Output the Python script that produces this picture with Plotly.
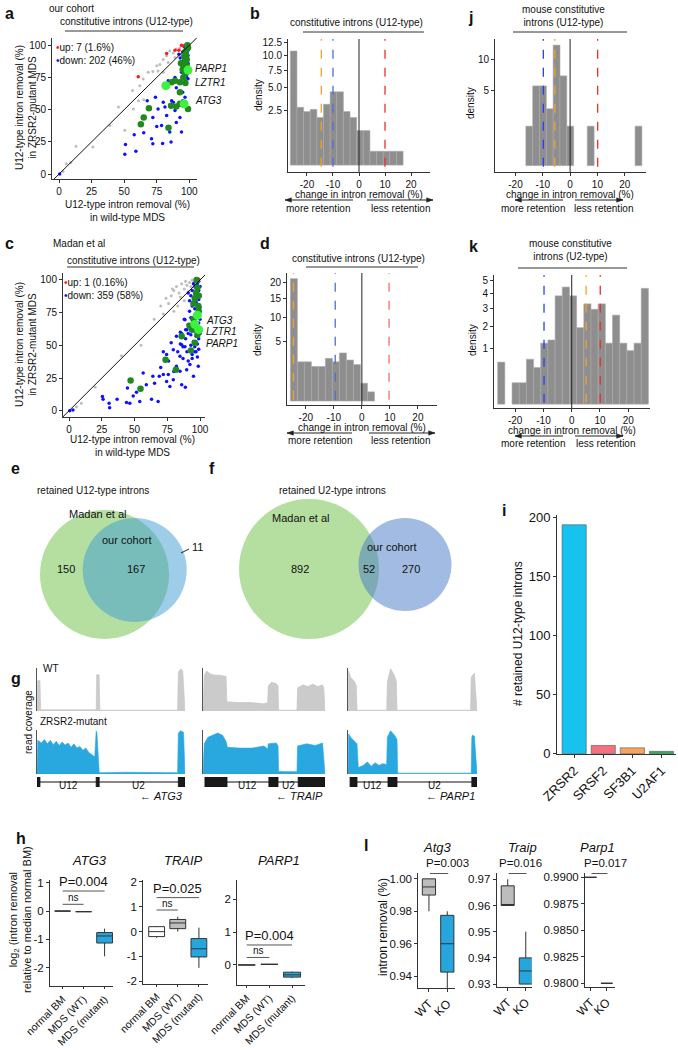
import numpy as np
import plotly.graph_objects as go

W, H = 678, 1050
FONT = "Liberation Sans, Arial, sans-serif"

# ======================= DATA =======================
# Panel a: our cohort, U12-type intron removal (%) WT MDS (x) vs ZRSR2-mutant MDS (y)
a_grey = [(5.6, 8), (13, 21.6), (26, 21), (39, 37.8), (45.6, 52), (50.5, 34), (57, 50.6), (61, 57),
          (64.6, 73.8), (65, 57.6), (68.5, 79), (72, 79.7), (75, 84), (77.4, 85), (80, 89), (82.6, 91.8),
          (85, 95.6), (87.7, 94), (90, 97), (92.8, 98), (89, 90.5), (94, 93), (96, 98.7), (76, 80),
          (62, 68.6), (56.4, 64.8), (80, 79), (83.8, 86.6), (3, 2), (9, 9)]
a_blue = [(0.5, 0), (51, 23), (57.7, 30.6), (59, 17.7), (65, 32), (50.5, 15.4), (71, 27.5), (79.5, 23.7),
          (86, 25), (75, 37), (78.7, 37.8), (82.6, 45.5), (85, 32.6), (90, 40), (92.8, 44), (87.7, 55.8),
          (81.3, 52), (86.4, 57), (89, 49.4), (94.9, 57), (96.7, 52.4), (76, 50.6), (80, 55.8), (94, 32.6),
          (83.8, 72.5), (85, 71.2), (89, 75), (94, 79), (94.9, 63.5), (90, 67), (72, 44), (67.7, 57),
          (98, 75), (96.7, 59.6), (74, 59.6), (72, 23.6), (98, 99), (97, 97), (99, 96), (98, 94), (96, 93),
          (99, 92), (97, 90), (98, 88), (95, 91), (99, 86), (97, 85), (96, 88), (98, 83), (99, 80), (97, 81),
          (95, 85), (96, 78), (98, 77), (99, 74), (97, 72), (94, 87), (93, 90), (95, 95), (92, 93), (96, 99)]
a_red = [(82.6, 93.6), (60.8, 75.6), (92, 96), (96, 99.5), (98, 95.6), (89, 96), (94, 100)]
a_green = [(98.5, 100), (98, 89), (97, 95), (96, 91), (95, 85), (98, 84), (97, 78), (96, 82), (93.6, 86),
           (97.4, 93), (99, 98), (95.4, 75), (94.9, 81), (92.8, 71.2), (86.4, 71.2), (89, 72.5), (92.8, 63.5),
           (92.8, 54.5), (86, 53), (90, 52.4), (99, 50.6), (69, 51), (65, 44), (62.8, 38.6), (84, 36),
           (97, 70.7), (96.7, 88)]
a_hl = [(99, 80.7), (82, 68.6), (96, 54.5)]
a_hl_genes = ["PARP1", "LZTR1", "ATG3"]
a_counts = ["up: 7 (1.6%)", "down: 202 (46%)"]

# Panel c: Madan et al
c_grey = [(5.6, 3), (9.4, 5.7), (20, 18), (40, 42), (55, 50), (65, 70), (70, 80), (74, 86), (78, 88),
          (80, 92), (82, 95), (84, 90), (86, 97), (88, 93), (89, 99), (90, 96), (91, 91), (92, 98),
          (93, 95), (94, 100), (95, 98), (96, 99), (85, 87), (76, 82), (83, 80), (88, 84), (80, 76),
          (72, 74), (79, 93)]
c_blue = [(25.5, 10.8), (26, 8.8), (30.6, 5.7), (31, 2.3), (36.7, 8.8), (43.9, 6.2), (46.4, 5.7),
          (44.6, 17.3), (49, 11.3), (51.5, 14.2), (54, 7), (56.6, 28.9), (59, 19.8), (63, 8.8), (64, 26.3),
          (65.3, 21), (68, 7), (68.9, 26.3), (72, 27.6), (74.5, 22.4), (75.8, 27.6), (77, 18.6), (79.6, 23.7),
          (82, 34), (84.7, 30.2), (86, 19.8), (88.8, 18), (89.8, 31.4), (92.3, 35.3), (95, 26.3), (98.7, 34),
          (3, 0.5), (0.5, 0), (88.5, 69.5), (91, 59), (86, 50.5), (79.6, 46.7), (74.5, 42.9), (84.7, 41.6),
          (88.5, 49), (70, 33), (76, 38), (80, 30), (83, 45), (87, 40), (90, 45), (93, 50), (91, 38),
          (85, 60), (78, 52), (82, 57), (89, 62), (94, 40), (96, 45), (72, 45),
          (99, 99), (98, 97), (100, 95), (97, 94), (99, 92), (98, 90), (100, 88), (96, 87), (99, 85),
          (97, 83), (98, 81), (100, 79), (96, 78), (99, 76), (97, 74), (98, 72), (100, 70), (95, 69),
          (99, 67), (97, 65), (98, 63), (96, 61), (100, 59), (97, 57), (99, 55), (95, 53), (98, 51),
          (96, 49), (99, 47), (97, 45), (94, 43), (98, 41), (95, 64), (93, 71), (94, 80), (92, 76),
          (93, 58), (91, 66), (92, 84), (90, 62), (89, 55), (88, 70), (87, 49), (86, 59), (85, 51),
          (91, 90), (95, 97), (94, 92), (96, 95), (93, 88)]
c_red = [(99, 100.5)]
c_green = [(97.4, 100), (98.7, 80), (97, 90), (96, 86), (99, 76), (95, 70), (97, 66), (94, 62), (98, 58),
           (96, 52), (93, 46), (95, 82), (98, 94), (47, 23.2), (54.6, 16.8), (81.6, 31.4), (73.7, 39),
           (86, 57), (92, 65), (99, 88)]
c_hl = [(98, 73), (96, 66), (99, 62)]
c_hl_genes = ["ATG3", "LZTR1", "PARP1"]
c_counts = ["up: 1 (0.16%)", "down: 359 (58%)"]

# Histograms: bin edges (change in intron removal, %) and densities
b_edges = [-26.4, -23.85, -21.3, -18.75, -16.2, -13.65, -11.1, -8.55, -6.0, -3.45, -0.9, 1.65, 4.2,
           6.75, 9.3, 11.85, 14.4, 16.95]
b_dens = [10.9, 2.8, 2.4, 2.6, 1.9, 3.1, 4.5, 4.5, 2.4, 1.9, 1.0, 1.0, 0.16, 0.16, 0.16, 0.16, 0.16]
b_vlines = [(-14.5, "#f0a22a"), (-10, "#4f6fd0"), (10, "#e8312b")]

d_edges = [-25.5, -23, -20.5, -18, -15.5, -13, -10.5, -8, -5.5, -3, -0.5, 2, 4.5]
d_dens = [21.4, 2.2, 2.2, 1.7, 1.7, 2.6, 2.2, 3.3, 2.4, 1.9, 0.45, 0.12]
d_vlines = [(-24.4, "#f0a22a"), (-9.5, "#4f6fd0"), (9.7, "#f07070")]

j_edges = [-16.2, -13.7, -11.2, -8.7, -6.2, -3.7, -1.2, 1.3, 3.8, 6.3, 8.8, 11.3, 13.8, 16.3, 18.8,
           21.3, 23.8, 26.3]
j_dens = [1.37, 5.6, 5.6, 2.85, 12.8, 7.1, 1.37, 0, 0, 1.37, 0, 0, 0, 0, 0, 0, 1.37]
j_vlines = [(-9.8, "#2a3cff"), (-5.6, "#f0a22a"), (10.1, "#e8312b")]

k_edges = [-26.2 + 2.54 * i for i in range(22)]
k_dens = [0.58, 0, 0.15, 0.15, 0.66, 0.44, 1.22, 1.35, 3.85, 4.5, 3.85, 1.92, 3.3, 2.95, 3.3, 1.22,
          2.6, 1.22, 0.94, 1.22, 4.4]
k_vlines = [(-9.8, "#2a3cff"), (5.1, "#f0a22a"), (10.1, "#e8312b")]

hist_xticks = [-20, -10, 0, 10, 20]

# Venn counts
e_counts = [150, 167, 11]
f_counts = [892, 52, 270]

# Panel g: read coverage (normalised position along locus, relative height)
g_genes = ["ATG3", "TRAIP", "PARP1"]
g_wt_x = [
    [0, 0.005, 0.02, 0.025, 0.40, 0.403, 0.42, 0.425, 0.95, 0.955, 0.97, 0.985, 1.0],
    [0, 0.01, 0.03, 0.06, 0.1, 0.14, 0.19, 0.195, 0.3, 0.4, 0.5, 0.53, 0.535, 0.56, 0.6, 0.615, 0.62,
     0.77, 0.775, 0.82, 0.86, 0.9, 0.94, 0.98, 0.99, 1.0],
    [0, 0.005, 0.02, 0.05, 0.065, 0.07, 0.3, 0.305, 0.33, 0.36, 0.375, 0.38, 0.95, 0.955, 0.98, 1.0]]
g_wt_y = [
    [0, 0.72, 0.72, 0.03, 0.03, 0.86, 0.86, 0.02, 0.02, 0.92, 1.0, 0.95, 0],
    [0, 0.85, 0.95, 0.88, 0.85, 0.85, 0.82, 0.22, 0.2, 0.2, 0.17, 0.2, 0.6, 0.68, 0.65, 0.6, 0.02,
     0.02, 0.55, 0.62, 0.58, 0.64, 0.58, 0.62, 0.55, 0],
    [0, 0.95, 0.8, 0.7, 0.6, 0.02, 0.02, 0.7, 1.0, 0.85, 0.7, 0.02, 0.02, 0.8, 0.9, 0]]
g_mut_x = [
    [0, 0.005, 0.03, 0.05, 0.07, 0.09, 0.11, 0.13, 0.15, 0.17, 0.19, 0.21, 0.23, 0.25, 0.27, 0.29,
     0.31, 0.33, 0.35, 0.37, 0.39, 0.40, 0.405, 0.42, 0.425, 0.6, 0.8, 0.95, 0.955, 0.97, 0.99, 1.0],
    [0, 0.01, 0.04, 0.08, 0.12, 0.16, 0.19, 0.2, 0.3, 0.4, 0.5, 0.53, 0.535, 0.6, 0.615, 0.62, 0.77,
     0.775, 0.85, 0.92, 0.98, 1.0],
    [0, 0.005, 0.02, 0.05, 0.07, 0.08, 0.12, 0.15, 0.18, 0.21, 0.24, 0.27, 0.3, 0.305, 0.33, 0.36,
     0.38, 0.385, 0.6, 0.8, 0.955, 0.96, 0.965, 0.98, 1.0]]
g_mut_y = [
    [0, 0.78, 0.72, 0.8, 0.7, 0.78, 0.68, 0.76, 0.66, 0.74, 0.67, 0.72, 0.62, 0.7, 0.6, 0.64, 0.55,
     0.6, 0.5, 0.45, 0.4, 1.0, 0.95, 0.05, 0.03, 0.04, 0.03, 0.03, 0.95, 1.0, 0.97, 0],
    [0, 0.7, 0.85, 0.9, 0.95, 0.9, 0.75, 0.62, 0.6, 0.6, 0.65, 0.58, 0.7, 0.72, 0.65, 0.06, 0.05,
     0.65, 0.7, 0.66, 0.72, 0],
    [0, 0.93, 0.85, 0.75, 0.7, 0.15, 0.2, 0.28, 0.18, 0.26, 0.2, 0.24, 0.22, 0.85, 1.0, 0.9, 0.8,
     0.02, 0.02, 0.02, 0.02, 0.85, 0.9, 0.88, 0]]
g_exons = [[(0, 0.02), (0.4, 0.42), (0.955, 1.0)],
           [(0.016, 0.197), (0.54, 0.615), (0.78, 1.0)],
           [(0.016, 0.07), (0.31, 0.38), (0.96, 1.0)]]
g_intron_types = ["U12", "U2"]

# Panel i
i_cats = ["ZRSR2", "SRSF2", "SF3B1", "U2AF1"]
i_vals = [194, 7, 5, 2]
i_colors = ["#16c3ee", "#f4707e", "#f6a35c", "#2fae62"]

# Panel h: box stats (lowerfence, q1, median, q3, upperfence)
h_genes = ["ATG3", "TRAIP", "PARP1"]
h_groups = ["normal BM", "MDS (WT)", "MDS (mutant)"]
h_stats = [
    [(0, 0, 0, 0, 0), (-0.02, -0.02, -0.02, -0.02, -0.02), (-1.6, -1.13, -0.88, -0.76, -0.62)],
    [(-0.25, -0.2, 0, 0.2, 0.22), (0.0, 0.12, 0.35, 0.49, 0.6), (-1.46, -1.02, -0.69, -0.28, 0.16)],
    [(0, 0, 0, 0, 0), (0.02, 0.02, 0.02, 0.02, 0.02), (-0.4, -0.37, -0.3, -0.22, -0.2)]]
h_pvals = ["P=0.004", "P=0.025", "P=0.004"]
h_colors = ["#ffffff", "#bdbdbd", "#27a6de"]

# Panel l
l_genes = ["Atg3", "Traip", "Parp1"]
l_groups = ["WT", "KO"]
l_stats = [
    [(0.98, 0.99, 0.995, 1.0, 1.0), (0.93, 0.9425, 0.96, 0.9775, 0.98)],
    [(0.96, 0.96, 0.96, 0.9675, 0.97), (0.93, 0.93, 0.935, 0.94, 0.95)],
    [(0.99, 0.99, 0.99, 0.99, 0.99), (0.98, 0.98, 0.98, 0.98, 0.98)]]
l_pvals = ["P=0.003", "P=0.016", "P=0.017"]
l_colors = ["#bdbdbd", "#27a6de"]

# ======================= HELPERS =======================
annotations, shapes, axes = [], [], {}
fig = go.Figure()


def px(x):
    return x / W


def py(y):
    return 1 - y / H


def text(t, x, y, size=10, xa="center", ya="middle", angle=0, color="#111", bold=False, italic=False):
    if italic:
        t = f"<i>{t}</i>"
    if bold:
        t = f"<b>{t}</b>"
    annotations.append(dict(text=t, x=px(x), y=py(y), xref="paper", yref="paper", showarrow=False,
                            xanchor=xa, yanchor=ya, textangle=angle,
                            font=dict(size=size, color=color, family=FONT)))


def pline(x0, x1, y0, y1, color="#333", width=1):
    shapes.append(dict(type="line", xref="paper", yref="paper", x0=px(x0), x1=px(x1), y0=py(y0),
                       y1=py(y1), line=dict(color=color, width=width)))


def arrow(xh, xt, y):
    pline(xh, xt, y, y, color="#222", width=1)
    d = 4 if xt > xh else -4
    shapes.append(dict(type="path", xref="paper", yref="paper",
                       path=f"M {px(xh)} {py(y)} L {px(xh + d * 1.6)} {py(y - 2.2)} L {px(xh + d * 1.6)} {py(y + 2.2)} Z",
                       fillcolor="#222", line=dict(color="#222", width=0.5)))


def make_axes(n, xpx, ypx, xr, yr, xkw=None, ykw=None):
    xs = "xaxis" if n == 1 else f"xaxis{n}"
    ys = "yaxis" if n == 1 else f"yaxis{n}"
    xa = "x" if n == 1 else f"x{n}"
    ya = "y" if n == 1 else f"y{n}"
    base = dict(showline=True, linecolor="#333", linewidth=1, ticks="outside", ticklen=3, tickwidth=1,
                tickcolor="#333", showgrid=False, zeroline=False, fixedrange=True,
                tickfont=dict(size=10, color="#111", family=FONT))
    xd = dict(base, domain=[xpx[0] / W, xpx[1] / W], range=xr, anchor=ya)
    yd = dict(base, domain=[1 - ypx[1] / H, 1 - ypx[0] / H], range=yr, anchor=xa)
    if xkw:
        xd.update(xkw)
    if ykw:
        yd.update(ykw)
    axes[xs] = xd
    axes[ys] = yd
    return xa, ya


def unzip(pts):
    return [p[0] for p in pts], [p[1] for p in pts]


# ======================= SCATTER PANELS a, c =======================
def scatter_panel(n, xpx, ypx, xr, yr, grey, blue, red, green, hl):
    xa, ya = make_axes(n, xpx, ypx, xr, yr,
                       dict(tickvals=[0, 25, 50, 75, 100]), dict(tickvals=[0, 25, 50, 75, 100]))
    for pts, col, size in [(grey, "#bdbdbd", 3), (blue, "#1010ff", 3.5), (red, "#ff1a1a", 3.5),
                           (green, "#1f8b1f", 6.5), (hl, "#3df23d", 9)]:
        x, y = unzip(pts)
        fig.add_trace(go.Scatter(x=x, y=y, mode="markers", xaxis=xa, yaxis=ya, hoverinfo="skip",
                                 marker=dict(color=col, size=size, line=dict(width=0))))
    fig.add_trace(go.Scatter(x=[-10, 110], y=[-10, 110], mode="lines", xaxis=xa, yaxis=ya,
                             line=dict(color="#111", width=1), hoverinfo="skip"))


scatter_panel(1, (52, 197), (38, 179), [-5.4, 105.9], [-3.8, 105.6], a_grey, a_blue, a_red, a_green, a_hl)
scatter_panel(4, (63, 205), (273, 417), [-4.6, 103.8], [-4.8, 105.3], c_grey, c_blue, c_red, c_green, c_hl)

# panel a texts
text("a", 3, 13, size=16, xa="left", bold=True)
text("our cohort", 47, 9, xa="left")
text("constitutive introns (U12-type)", 126, 22)
pline(65, 183, 31, 31)
text("<span style='color:#ff1a1a'>&#8226;</span>" + a_counts[0], 54, 47, xa="left")
text("<span style='color:#1010ff'>&#8226;</span>" + a_counts[1], 54, 60, xa="left")
for g, yy in zip(a_hl_genes, [68, 83, 101]):
    text(g, 193, yy, xa="left", italic=True)
text("U12-type intron removal (%)<br>in ZRSR2-mutant MDS", 26, 108, angle=-90)
text("U12-type intron removal (%)<br>in wild-type MDS", 127, 211)

# panel c texts
text("c", 3, 243, size=16, xa="left", bold=True)
text("Madan et al", 51, 243, xa="left")
text("constitutive introns (U12-type)", 133, 260)
pline(67, 194, 267, 267)
text("<span style='color:#ff1a1a'>&#8226;</span>" + c_counts[0], 62, 282, xa="left")
text("<span style='color:#1010ff'>&#8226;</span>" + c_counts[1], 62, 295, xa="left")
for g, yy in zip(c_hl_genes, [320, 332, 343]):
    text(g, 204, yy, xa="left", italic=True)
text("U12-type intron removal (%)<br>in ZRSR2-mutant MDS", 26, 345, angle=-90)
text("U12-type intron removal (%)<br>in wild-type MDS", 132, 446)


# ======================= HISTOGRAMS b, d, j, k =======================
def hist_panel(n, xpx, ypx, xr, yr, edges, dens, yticks, yticktext, vlines):
    xa, ya = make_axes(n, xpx, ypx, xr, yr,
                       dict(tickvals=hist_xticks, ticktext=[str(v) for v in hist_xticks]),
                       dict(tickvals=list(np.sqrt(yticks)), ticktext=yticktext))
    e = np.array(edges)
    d = np.array(dens)
    keep = d > 0
    centers = ((e[:-1] + e[1:]) / 2)[keep]
    widths = np.diff(e)[keep]
    fig.add_trace(go.Bar(x=centers, y=np.sqrt(d[keep]), width=widths, xaxis=xa, yaxis=ya,
                         marker=dict(color="#8e8e8e", line=dict(color="#a9a9a9", width=0.6)),
                         hoverinfo="skip"))
    shapes.append(dict(type="line", xref=xa, yref=f"{ya} domain", x0=0, x1=0, y0=0, y1=1,
                       line=dict(color="#222", width=1)))
    for v, col in vlines:
        shapes.append(dict(type="line", xref=xa, yref=f"{ya} domain", x0=v, x1=v, y0=0.04, y1=1,
                           line=dict(color=col, width=1.3, dash="dash")))


hist_panel(2, (288, 430), (39, 172), [-27.3, 27.3], [-0.2, 3.65], b_edges, b_dens,
           [2.5, 5, 7.5, 10, 12.5], ["2.5", "5.0", "7.5", "10.0", "12.5"], b_vlines)
hist_panel(5, (287, 437), (273, 405), [-26.7, 26.8], [-0.15, 4.84], d_edges, d_dens,
           [5, 10, 15, 20], ["5", "10", "15", "20"], d_vlines)
hist_panel(3, (495, 646), (39, 172), [-27.5, 27.8], [-0.19, 3.76], j_edges, j_dens,
           [5, 10], ["5", "10"], j_vlines)
hist_panel(6, (494, 650), (275, 408), [-27.5, 27.7], [-0.07, 2.34], k_edges, k_dens,
           [1, 2, 3, 4, 5], ["1", "2", "3", "4", "5"], k_vlines)


def hist_labels(xaxis_y, cx, left_arrow, right_arrow, more_x, less_x, dens_x, dens_y):
    text("change in intron removal (%)", cx, xaxis_y + 22)
    arrow(left_arrow[0], left_arrow[1], xaxis_y + 28)
    arrow(right_arrow[0], right_arrow[1], xaxis_y + 28)
    text("more retention", more_x, xaxis_y + 36)
    text("less retention", less_x, xaxis_y + 36)
    text("density", dens_x, dens_y, angle=-90)


text("b", 248, 13, size=16, xa="left", bold=True)
text("constitutive introns (U12-type)", 356, 23)
pline(303, 424, 32, 32)
hist_labels(172, 359, (285, 353), (433, 367), 318, 400, 258, 95)

text("d", 258, 244, size=16, xa="left", bold=True)
text("constitutive introns (U12-type)", 358, 258)
pline(306, 418, 267, 267)
hist_labels(405, 362, (287, 352), (435, 369), 320, 400, 258, 340)

text("j", 466, 17, size=16, xa="left", bold=True)
text("mouse constitutive<br>introns (U12-type)", 563, 16)
pline(513, 627, 32, 32)
hist_labels(172, 570, (515, 563), (623, 575), 533, 603, 470, 103)

text("k", 467, 246, size=16, xa="left", bold=True)
text("mouse constitutive<br>introns (U2-type)", 570, 250)
pline(518, 627, 268, 268)
hist_labels(408, 572, (515, 563), (623, 575), 533, 605, 473, 340)


# ======================= VENN e, f =======================
def circle(cx, cy, r, fill):
    shapes.append(dict(type="circle", xref="paper", yref="paper", x0=px(cx - r), x1=px(cx + r),
                       y0=py(cy + r), y1=py(cy - r), fillcolor=fill, line=dict(width=0), layer="below"))


text("e", 9, 468, size=16, xa="left", bold=True)
text("retained U12-type introns", 93, 490)
circle(104.5, 574.5, 64.5, "#b5dfa0")
circle(134.7, 570, 52, "rgba(61,155,214,0.5)")
text("Madan et al", 97, 514, size=11)
text("our cohort", 127, 540, size=11)
text(str(e_counts[0]), 66, 569, size=11)
text(str(e_counts[1]), 136, 569, size=11)
text(str(e_counts[2]), 190, 547, size=11, xa="left")
pline(181, 189, 553, 549, color="#222")

text("f", 207, 468, size=16, xa="left", bold=True)
text("retained U2-type introns", 332, 490)
circle(309, 569, 70, "#b5dfa0")
circle(405, 564.5, 46.5, "rgba(70,120,200,0.5)")
text("Madan et al", 300, 518, size=11)
text("our cohort", 392, 547, size=11)
text(str(f_counts[0]), 300, 569, size=11)
text(str(f_counts[1]), 369, 569, size=11)
text(str(f_counts[2]), 411, 569, size=11)

# ======================= COVERAGE g =======================
text("g", 9, 678, size=16, xa="left", bold=True)
text("WT", 41, 668, xa="left")
text("ZRSR2-mutant", 38, 721, xa="left")
text("read coverage", 28, 722, angle=-90)
tracks_px = [(37, 185), (203, 325), (348, 477)]
for t, (x0, x1) in enumerate(tracks_px):
    n0 = 7 + t * 3
    hidden = dict(visible=False)
    xa, ya = make_axes(n0, (x0, x1), (668, 711), [0, 1], [0, 1.02], hidden,
                       dict(showticklabels=False, ticks="", linecolor="#555"))
    fig.add_trace(go.Scatter(x=g_wt_x[t], y=g_wt_y[t], fill="tozeroy", mode="lines", xaxis=xa, yaxis=ya,
                             line=dict(color="#c4c4c4", width=0.6), fillcolor="#cbcbcb", hoverinfo="skip"))
    xa, ya = make_axes(n0 + 1, (x0, x1), (730, 774), [0, 1], [0, 1.02], hidden,
                       dict(showticklabels=False, ticks="", linecolor="#555"))
    fig.add_trace(go.Scatter(x=g_mut_x[t], y=g_mut_y[t], fill="tozeroy", mode="lines", xaxis=xa,
                             yaxis=ya, line=dict(color="#29a8e0", width=0.6), fillcolor="#29a8e0",
                             hoverinfo="skip"))
    xa, ya = make_axes(n0 + 2, (x0, x1), (777, 787), [0, 1], [-1, 1], hidden, hidden)
    ex = g_exons[t]
    shapes.append(dict(type="line", xref=xa, yref=ya, x0=ex[0][0], x1=ex[-1][1], y0=0, y1=0,
                       line=dict(color="#111", width=1.2)))
    for s, e in ex:
        shapes.append(dict(type="rect", xref=xa, yref=ya, x0=s, x1=e, y0=-1, y1=1,
                           fillcolor="#1a1a1a", line=dict(color="#111", width=0.8)))
    for k in range(2):
        mid = (ex[k][1] + ex[k + 1][0]) / 2
        annotations.append(dict(text=g_intron_types[k], x=mid, y=py(793), xref=xa, yref="paper",
                                showarrow=False, font=dict(size=10, family=FONT, color="#111")))
    annotations.append(dict(text=f"\u2190 <i>{g_genes[t]}</i>", x=1, y=py(804), xref=xa, yref="paper",
                            xanchor="right", showarrow=False, font=dict(size=11, family=FONT, color="#111")))

# ======================= BAR i =======================
text("i", 500, 510, size=16, xa="left", bold=True)
xa, ya = make_axes(16, (557, 676), (515, 754), [-0.59, 3.5], [-0.25, 202.3],
                   dict(tickvals=list(range(len(i_cats))), ticktext=i_cats, tickangle=-45,
                        tickfont=dict(size=13, family=FONT, color="#111")),
                   dict(tickvals=[0, 50, 100, 150, 200], tickfont=dict(size=13, family=FONT, color="#111")))
fig.add_trace(go.Bar(x=list(range(len(i_cats))), y=i_vals, width=0.83, xaxis=xa, yaxis=ya,
                     marker=dict(color=i_colors, line=dict(color="#555", width=0.6)), hoverinfo="skip"))
text("# retained U12-type introns", 518, 634, size=12, angle=-90)

# ======================= BOX h =======================
text("h", 14, 838, size=16, xa="left", bold=True)
h_geo = [((50, 113), (880, 986), [-0.6, 2.4], [-2.65, 1.1], [-2, -1, 0, 1], (0.71, 0.24)),
         ((143.3, 207.8), (880, 983.5), [-0.63, 2.42], [-2.09, 2.08], [-2, -1, 0, 1, 2], (1.37, 0.87)),
         ((237.3, 305), (880, 985), [-0.415, 2.57], [-0.61, 2.59], [0, 1, 2], (0.61, 0.23))]
for gi, (xp, yp, xr, yr, yt, (pl, nl)) in enumerate(h_geo):
    xa, ya = make_axes(17 + gi, xp, yp, xr, yr,
                       dict(tickvals=[0, 1, 2], ticktext=h_groups, tickangle=-45, ticklen=2,
                            tickfont=dict(size=10.5, family=FONT, color="#111")),
                       dict(tickvals=yt, ticktext=[str(v) for v in yt],
                            tickfont=dict(size=11.5, family=FONT, color="#111")))
    for k, st in enumerate(h_stats[gi]):
        fig.add_trace(go.Box(x=[k], lowerfence=[st[0]], q1=[st[1]], median=[st[2]], q3=[st[3]],
                             upperfence=[st[4]], width=0.75, whiskerwidth=0, fillcolor=h_colors[k],
                             line=dict(color="#333", width=1), xaxis=xa, yaxis=ya, hoverinfo="skip"))
    shapes.append(dict(type="line", xref=xa, yref=ya, x0=0, x1=2, y0=pl, y1=pl, line=dict(color="#555", width=1)))
    shapes.append(dict(type="line", xref=xa, yref=ya, x0=0, x1=1, y0=nl, y1=nl, line=dict(color="#555", width=1)))
    annotations.append(dict(text=h_pvals[gi], x=1, y=pl, xref=xa, yref=ya, yanchor="bottom", yshift=0,
                            showarrow=False, font=dict(size=13, family=FONT, color="#111")))
    annotations.append(dict(text="ns", x=0.5, y=nl, xref=xa, yref=ya, yanchor="bottom", yshift=-1,
                            showarrow=False, font=dict(size=10, family=FONT, color="#111")))
    cx = (xp[0] + xp[1]) / 2 + 8
    text(h_genes[gi], cx, 860, size=13, italic=True)
text("log<sub>2</sub> (intron removal<br>relative to median normal BM)", 20, 920, size=11, angle=-90)

# ======================= BOX l =======================
text("l", 362, 845, size=16, xa="left", bold=True)
l_geo = [((418.3, 455), (873, 988), [-0.58, 1.42], [0.9327, 1.0036], [0.94, 0.96, 0.98, 1.00], "{:.2f}"),
         ((496.7, 531.7), (873, 986.7), [-0.61, 1.33], [0.929, 0.9724], [0.93, 0.94, 0.95, 0.96, 0.97], "{:.2f}"),
         ((585, 615), (873, 986.7), [-0.36, 1.52], [0.97968, 0.99041],
          [0.98, 0.9825, 0.985, 0.9875, 0.99], "{:.4f}")]
l_title_x = [437, 522, 597]
l_p_x = [447, 520, 605]
for gi, (xp, yp, xr, yr, yt, fmt) in enumerate(l_geo):
    xa, ya = make_axes(20 + gi, xp, yp, xr, yr,
                       dict(tickvals=[0, 1], ticktext=l_groups, tickangle=-45,
                            tickfont=dict(size=12, family=FONT, color="#111")),
                       dict(tickvals=yt, ticktext=[fmt.format(v) for v in yt],
                            tickfont=dict(size=11.5, family=FONT, color="#111")))
    for k, st in enumerate(l_stats[gi]):
        fig.add_trace(go.Box(x=[k], lowerfence=[st[0]], q1=[st[1]], median=[st[2]], q3=[st[3]],
                             upperfence=[st[4]], width=0.72, whiskerwidth=0, fillcolor=l_colors[k],
                             line=dict(color="#333", width=1), xaxis=xa, yaxis=ya, hoverinfo="skip"))
    shapes.append(dict(type="line", xref=xa, yref="paper", x0=0.05, x1=1.05, y0=py(873.5), y1=py(873.5),
                       line=dict(color="#555", width=1)))
    text(l_genes[gi], l_title_x[gi], 847, size=13, italic=True)
    text(l_pvals[gi], l_p_x[gi], 863, size=11.5)
text("intron removal (%)", 383, 927, size=12, angle=-90)

fig.update_layout(width=W, height=H, margin=dict(l=0, r=0, t=0, b=0, pad=0, autoexpand=False),
                  paper_bgcolor="white", plot_bgcolor="rgba(0,0,0,0)", showlegend=False,
                  boxmode="overlay", barmode="overlay",
                  annotations=annotations, shapes=shapes, font=dict(family=FONT, size=10, color="#111"),
                  **axes)
fig.write_html("out.html", config={"displayModeBar": False, "staticPlot": True},
               post_script="document.body.style.margin='0';document.body.style.overflow='hidden';")
